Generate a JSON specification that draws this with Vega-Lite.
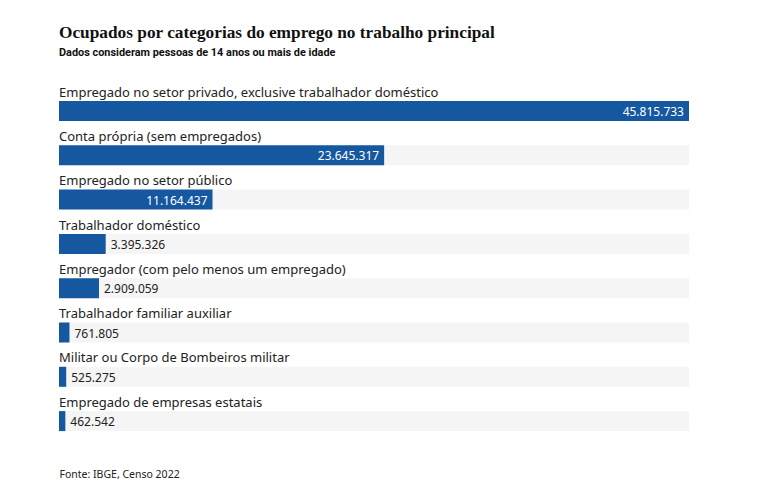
{
  "$schema": "https://vega.github.io/schema/vega-lite/v6.json",
  "width": 630,
  "height": 354.4,
  "autosize": {"type": "none"},
  "padding": {"left": 59, "top": 82, "right": 72, "bottom": 66.6},
  "background": "#ffffff",
  "config": {
    "view": {"stroke": null},
    "locale": {"number": {"decimal": ",", "thousands": ".", "grouping": [3], "currency": ["R$", ""]}}
  },
  "title": {
    "text": "Ocupados por categorias do emprego no trabalho principal",
    "subtitle": "Dados consideram pessoas de 14 anos ou mais de idade",
    "anchor": "start",
    "frame": "group",
    "font": "Liberation Serif",
    "fontSize": 17.3,
    "fontWeight": "bold",
    "color": "#111111",
    "subtitleFont": "Roboto",
    "subtitleFontSize": 10.9,
    "subtitleFontWeight": "bold",
    "subtitleColor": "#111111",
    "subtitlePadding": 6,
    "offset": 24
  },
  "data": {
    "values": [
      {"categoria": "Empregado no setor privado, exclusive trabalhador doméstico", "valor": 45815733},
      {"categoria": "Conta própria (sem empregados)", "valor": 23645317},
      {"categoria": "Empregado no setor público", "valor": 11164437},
      {"categoria": "Trabalhador doméstico", "valor": 3395326},
      {"categoria": "Empregador (com pelo menos um empregado)", "valor": 2909059},
      {"categoria": "Trabalhador familiar auxiliar", "valor": 761805},
      {"categoria": "Militar ou Corpo de Bombeiros militar", "valor": 525275},
      {"categoria": "Empregado de empresas estatais", "valor": 462542}
    ]
  },
  "encoding": {
    "y": {"field": "categoria", "type": "nominal", "sort": null, "axis": null,
          "scale": {"paddingInner": 0, "paddingOuter": 0}}
  },
  "layer": [
    {
      "mark": {"type": "bar", "height": 20, "yOffset": 6.85, "color": "#f5f5f5"},
      "encoding": {
        "x": {"datum": 45815733, "type": "quantitative",
              "scale": {"domain": [0, 45815733], "nice": false, "zero": true},
              "axis": {"title": "Fonte: IBGE, Censo 2022", "labels": false, "ticks": false, "domain": false, "grid": false,
                       "titleAnchor": "start", "titleAlign": "left", "titleFont": "Noto Sans", "titleFontSize": 10.5,
                       "titleFontWeight": "normal", "titleColor": "#222222", "titlePadding": 33}}
      }
    },
    {
      "mark": {"type": "bar", "height": 20, "yOffset": 6.85, "color": "#1558a0"},
      "encoding": {"x": {"field": "valor", "type": "quantitative"}}
    },
    {
      "mark": {"type": "text", "align": "left", "baseline": "middle", "yOffset": -11.5, "font": "Noto Sans", "fontSize": 13, "color": "#222222"},
      "encoding": {"x": {"datum": 0, "type": "quantitative"}, "text": {"field": "categoria"}}
    },
    {
      "transform": [{"filter": "datum.valor > 5000000"}],
      "mark": {"type": "text", "align": "right", "baseline": "middle", "dx": -5, "yOffset": 7.85, "font": "Noto Sans", "fontSize": 12, "color": "#ffffff"},
      "encoding": {"x": {"field": "valor", "type": "quantitative"}, "text": {"field": "valor", "type": "quantitative", "format": ",d"}}
    },
    {
      "transform": [{"filter": "datum.valor <= 5000000"}],
      "mark": {"type": "text", "align": "left", "baseline": "middle", "dx": 5, "yOffset": 7.85, "font": "Noto Sans", "fontSize": 12, "color": "#222222"},
      "encoding": {"x": {"field": "valor", "type": "quantitative"}, "text": {"field": "valor", "type": "quantitative", "format": ",d"}}
    }
  ]
}
